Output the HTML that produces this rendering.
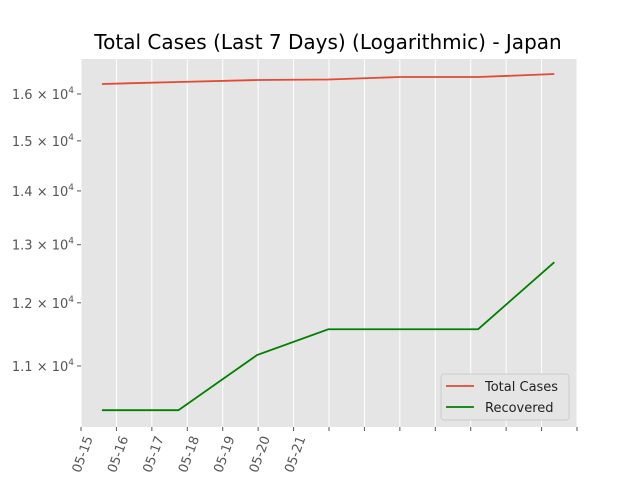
<!DOCTYPE html>
<html><head><meta charset="utf-8"><style>
body{margin:0;background:#fff;}
svg{font-family:"DejaVu Sans","Liberation Sans",sans-serif;}
</style></head><body>
<svg id="c" width="640" height="480"></svg>
<script>
const tickLabels=["05-15","05-16","05-17","05-18","05-19","05-20","05-21"];
const dayOffsets=[0.59,2.75,4.97,6.98,8.98,11.21,13.36];
const totalCases=[16222,16266,16311,16322,16378,16378,16446];
const recovered=[10350,10350,11167,11571,11571,11571,12690];
const yTicks=[11000,12000,13000,14000,15000,16000];
const yTickLabels=["1.1","1.2","1.3","1.4","1.5","1.6"];
const L=81,R=577,T=59,B=427,X0=0,X1=14,Y0=10113,Y1=16790;
const NS="http://www.w3.org/2000/svg";
const svg=document.getElementById('c');
function xs(v){return L+(v-X0)/(X1-X0)*(R-L);}
function ys(v){return B-(Math.log(v)-Math.log(Y0))/(Math.log(Y1)-Math.log(Y0))*(B-T);}
function mk(t,a,p){const e=document.createElementNS(NS,t);for(const k in a)e.setAttribute(k,a[k]);(p||svg).appendChild(e);return e;}
const bg=mk('rect',{x:L,y:T,width:R-L,height:B-T,fill:'#e5e5e5'});


for(let i=0;i<=14;i++){const x=xs(i);
 const g=mk('line',{x1:x,x2:x,y1:T,y2:B,stroke:'#fff','stroke-width':1});
 
 
 const t=mk('line',{x1:x,x2:x,y1:B,y2:B+4,stroke:'#555','stroke-width':1});
 
 
 if(i<tickLabels.length){const tx=mk('text',{x:0,y:0,'font-size':13,fill:'#555','text-anchor':'end',transform:`translate(${x+12},${B+11}) rotate(-70)`});
  tx.textContent=tickLabels[i];
  
  }
}
yTicks.forEach((v,i)=>{const y=ys(v);
 const t=mk('line',{x1:L-4,x2:L,y1:y,y2:y,stroke:'#555'});
 
 
 const tx=mk('text',{x:L-7,y:y+5,'font-size':13,fill:'#555','text-anchor':'end'});
 tx.innerHTML=yTickLabels[i]+' \u00d7 10<tspan dy="-6" font-size="9">4</tspan>';
 
 
});
function line(vals,color,name){const p=mk('polyline',{points:vals.map((v,i)=>xs(dayOffsets[i])+','+ys(v)).join(' '),fill:'none',stroke:color,'stroke-width':1.8});
 
 }
line(totalCases,'#e24a33','total-cases-line');
line(recovered,'#008000','recovered-line');
const title=mk('text',{x:328,y:49,'font-size':20,fill:'#000','text-anchor':'middle'});
title.textContent='Total Cases (Last 7 Days) (Logarithmic) - Japan';


const lg=mk('g',{});


mk('rect',{x:441,y:374,width:128,height:46,rx:3,fill:'#e5e5e5',stroke:'#ccc','stroke-width':1},lg);
[['Total Cases','#e24a33',386],['Recovered','#008000',407]].forEach(d=>{
 const e=mk('g',{},lg);
 
 
 mk('line',{x1:446,x2:474,y1:d[2],y2:d[2],stroke:d[1],'stroke-width':1.8},e);
 const t=mk('text',{x:485,y:d[2]+5,'font-size':13,fill:'#222'},e);t.textContent=d[0];
});
</script></body></html>
